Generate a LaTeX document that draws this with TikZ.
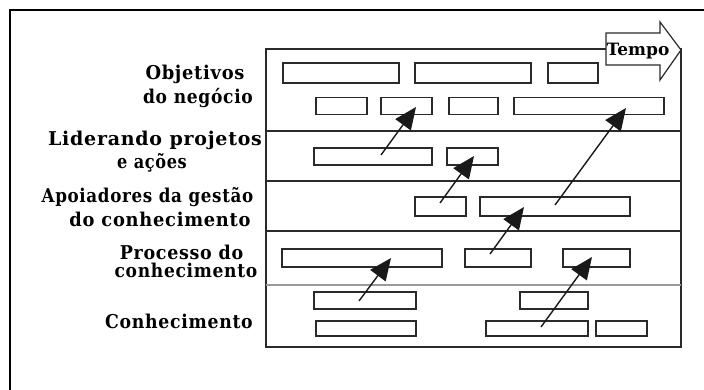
\documentclass[tikz,border=0pt]{standalone}
\usepackage{fontspec}
\setmainfont{DejaVu Serif}
\newfontfamily\labfont[LetterSpace=4]{DejaVu Serif}
\usetikzlibrary{arrows.meta}
\definecolor{ln}{HTML}{2A2A2A}
\definecolor{gl}{HTML}{9A9A9A}
\tikzset{
  bx/.style={draw=ln, line width=1.2pt, rectangle, inner sep=0pt, outer sep=0pt},
  lab/.style={font=\labfont\bfseries\fontsize{19}{19}\selectfont, inner sep=0pt, anchor=base},
  arr/.style={draw=black!90, line width=1.4pt, -{Triangle[length=22pt,width=19pt]}},
  frame/.style={draw=ln, line width=1.2pt}
}
\newcommand{\sx}[2]{\scalebox{#1}[1]{#2}}
\begin{document}
\begin{tikzpicture}[x=1pt,y=-1pt]
\useasboundingbox (0,0) rectangle (704,390);
% outer frame (only top and left visible)
\draw[line width=2pt, black] (10,390) -- (10,10) -- (704,10);
% inner frame and row dividers
\draw[frame] (266,49) rectangle (681,347);
\draw[frame] (266,131) -- (681,131);
\draw[frame] (266,181) -- (681,181);
\draw[frame] (266,231) -- (681,231);
\draw[draw=gl, line width=1.2pt] (266,285) -- (681,285);
% row 1
\node[bx, minimum width=116pt, minimum height=20pt] (o1) at (341,73) {};
\node[bx, minimum width=116pt, minimum height=20pt] (o2) at (473,73) {};
\node[bx, minimum width=50pt, minimum height=20pt] (o3) at (573,73) {};
\node[bx, minimum width=51pt, minimum height=17pt] (o4) at (341.5,106) {};
\node[bx, minimum width=51pt, minimum height=17pt] (o5) at (406.5,106) {};
\node[bx, minimum width=49pt, minimum height=17pt] (o6) at (473.5,106) {};
\node[bx, minimum width=150pt, minimum height=17pt] (o7) at (589,106) {};
% row 2
\node[bx, minimum width=118pt, minimum height=17pt] (l1) at (373,156.5) {};
\node[bx, minimum width=51pt, minimum height=17pt] (l2) at (472.5,156.5) {};
% row 3
\node[bx, minimum width=51pt, minimum height=19pt] (a1) at (440.5,206.5) {};
\node[bx, minimum width=150pt, minimum height=19pt] (a2) at (555,206.5) {};
% row 4
\node[bx, minimum width=160pt, minimum height=18pt] (p1) at (362,258) {};
\node[bx, minimum width=66pt, minimum height=18pt] (p2) at (498,258) {};
\node[bx, minimum width=67pt, minimum height=18pt] (p3) at (596.5,258) {};
% row 5
\node[bx, minimum width=102pt, minimum height=17pt] (k1) at (365,300.5) {};
\node[bx, minimum width=68pt, minimum height=17pt] (k2) at (554,300.5) {};
\node[bx, minimum width=100pt, minimum height=15pt] (k3) at (366,328.5) {};
\node[bx, minimum width=102pt, minimum height=15pt] (k4) at (537,328.5) {};
\node[bx, minimum width=51pt, minimum height=15pt] (k5) at (621.5,328.5) {};
% arrow end points
\coordinate (t1) at (381,155); \coordinate (h1) at (416,107);
\coordinate (t2) at (440,203); \coordinate (h2) at (474,156);
\coordinate (t3) at (555,205); \coordinate (h3) at (626,108);
\coordinate (t4) at (490,254); \coordinate (h4) at (524,207);
\coordinate (t5) at (359,301); \coordinate (h5) at (391,258);
\coordinate (t6) at (541,327); \coordinate (h6) at (592,257);
\foreach \i in {1,...,6} { \draw[arr] (t\i) -- (h\i); }
% Tempo block arrow
\draw[draw=ln, line width=1.2pt, fill=white, line join=miter]
  (606,33) -- (660,33) -- (660,22) -- (681,50) -- (660,80) -- (660,65) -- (606,65) -- cycle;
\node[font=\bfseries\fontsize{17}{17}\selectfont, inner sep=0pt, anchor=base] (tempo) at (638,56) {Tempo};
% labels
\node[lab] (lb1a) at (195,80) {\sx{0.94}{Objetivos}};
\node[lab] (lb1b) at (198,104) {\sx{0.90}{do negócio}};
\node[lab] (lb2a) at (155,146) {Liderando projetos};
\node[lab] (lb2b) at (152,169) {\sx{0.85}{e ações}};
\node[lab] (lb3a) at (147.5,203) {\sx{0.88}{Apoiadores da gestão}};
\node[lab] (lb3b) at (160,226) {\sx{0.94}{do conhecimento}};
\node[lab] (lb4a) at (181.5,259) {\sx{0.92}{Processo do}};
\node[lab] (lb4b) at (186,277) {\sx{0.90}{conhecimento}};
\node[lab] (lb5) at (179,328) {\sx{0.91}{Conhecimento}};
\end{tikzpicture}
\end{document}
